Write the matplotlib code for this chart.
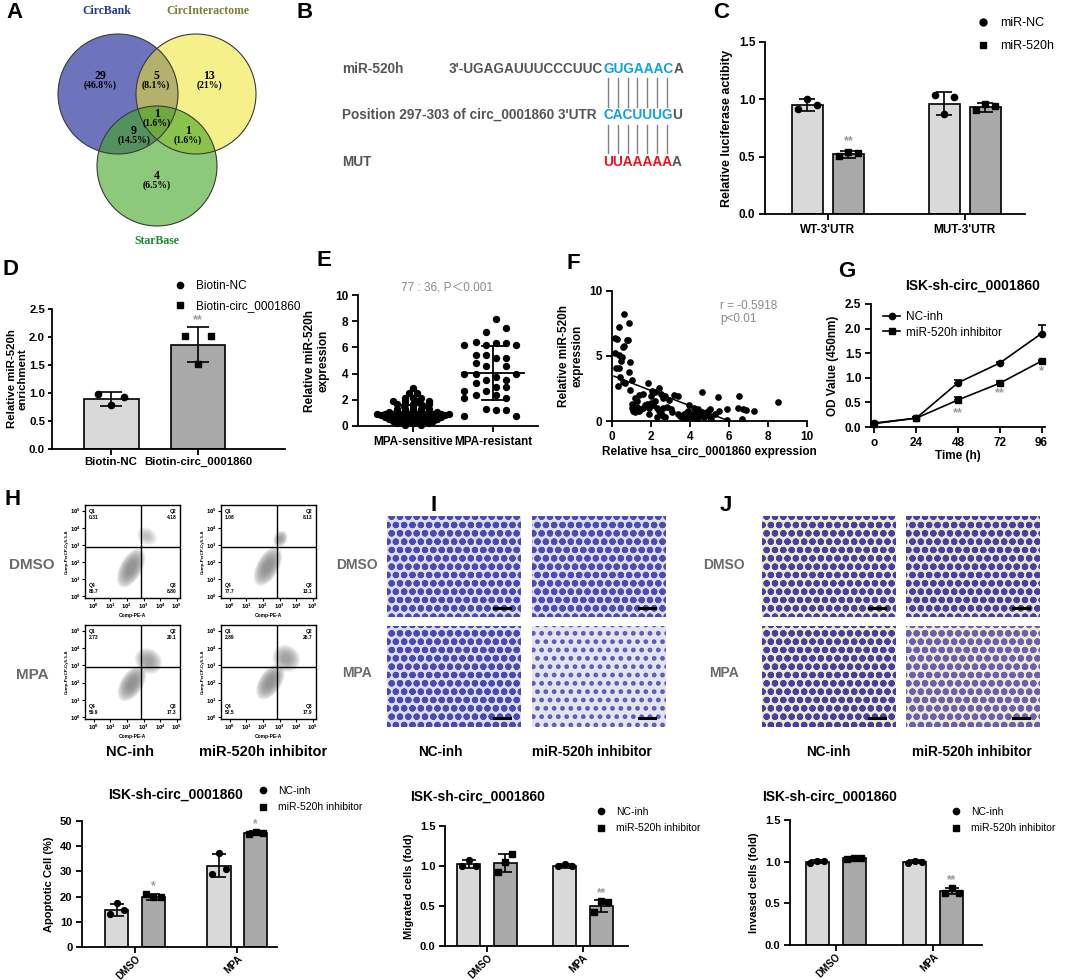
import numpy as np
import matplotlib
matplotlib.use('Agg')
import matplotlib.pyplot as plt
from matplotlib.patches import Circle, Ellipse, Rectangle
from matplotlib.lines import Line2D

W, H = 1065, 980
plt.rcParams['font.family'] = ['Liberation Sans', 'Noto Sans CJK SC', 'DejaVu Sans']
plt.rcParams['font.weight'] = 'bold'
plt.rcParams['axes.labelweight'] = 'bold'
plt.rcParams['axes.linewidth'] = 1.3
plt.rcParams['hatch.linewidth'] = 2.2

LIGHT = '#d9d9d9'
DARK = '#a9a9a9'
STAR = '#9a9a9a'

# ---------------- data ----------------
# A  Venn
venn_names = ['CircBank', 'CircInteractome', 'StarBase']
venn_counts = [29, 5, 13, 1, 9, 1, 4]
venn_pct = ['46.8%', '8.1%', '21%', '1.6%', '14.5%', '1.6%', '6.5%']

# B  binding site
b_rows = ['miR-520h', "Position 297-303 of circ_0001860 3'UTR", 'MUT']
b_prefix = ["3'-UGAGAUUUCCCUUC", '', '']
b_site = ['GUGAAAC', 'CACUUUG', 'UUAAAAA']
b_tail = ['A', 'U', 'A']

# C  luciferase
c_groups = ["WT-3'UTR", "MUT-3'UTR"]
c_series = ['miR-NC', 'miR-520h']
c_mean = [[0.95, 0.96], [0.52, 0.93]]
c_sd = [[0.05, 0.10], [0.03, 0.04]]
c_pts = [[[0.92, 1.00, 0.95], [1.04, 0.87, 1.02]],
         [[0.51, 0.54, 0.53], [0.91, 0.96, 0.94]]]

# D  RNA pull-down
d_groups = ['Biotin-NC', 'Biotin-circ_0001860']
d_mean = [0.89, 1.86]
d_sd = [0.13, 0.31]
d_pts = [[0.98, 0.78, 0.93], [2.02, 1.52, 2.02]]

# E  miR-520h expression in MPA-sensitive / resistant
e_groups = ['MPA-sensitive', 'MPA-resistant']
e_mean = [0.95, 4.05]
e_sd = [0.65, 2.05]
sens_vals = [2.9, 2.5, 2.5, 2.1, 2.1, 2.1,
             1.9, 1.9, 1.9, 1.9, 1.7, 1.7, 1.7, 1.7, 1.7,
             1.5, 1.5, 1.5, 1.3, 1.3, 1.3, 1.3, 1.3,
             1.1, 1.1, 1.1, 1.1, 1.1, 1.1, 1.1,
             0.95, 0.95, 0.95, 0.95, 0.95, 0.95, 0.95, 0.95, 0.95, 0.95,
             0.85, 0.85, 0.85, 0.85, 0.85, 0.85, 0.85, 0.85, 0.85,
             0.7, 0.7, 0.7, 0.7, 0.7, 0.7, 0.7, 0.7,
             0.55, 0.55, 0.55, 0.55, 0.55, 0.55, 0.55,
             0.4, 0.4, 0.4, 0.4, 0.4, 0.4,
             0.25, 0.25, 0.25, 0.25, 0.25, 0.1, 0.1]
sens_off = [0.0, -0.05, 0.05, -0.1, 0.0, 0.1,
            -0.25, -0.1, 0.05, 0.2, -0.2, -0.1, 0.0, 0.1, 0.2,
            -0.12, 0.0, 0.12, -0.2, -0.1, 0.0, 0.1, 0.2,
            -0.3, -0.2, -0.1, 0.0, 0.1, 0.2, 0.3,
            -0.45, -0.35, -0.25, -0.15, -0.05, 0.05, 0.15, 0.25, 0.35, 0.45,
            -0.4, -0.3, -0.2, -0.1, 0.0, 0.1, 0.2, 0.3, 0.4,
            -0.35, -0.25, -0.15, -0.05, 0.05, 0.15, 0.25, 0.35,
            -0.3, -0.2, -0.1, 0.0, 0.1, 0.2, 0.3,
            -0.25, -0.15, -0.05, 0.05, 0.15, 0.25,
            -0.2, -0.1, 0.0, 0.1, 0.2, -0.1, 0.1]
res_vals = [8.15, 7.2, 7.5, 6.2, 6.4, 6.2, 6.3, 6.3, 6.2,
            5.4, 5.4, 5.2, 5.2, 4.8, 4.6, 4.6,
            4.0, 4.0, 3.75, 4.0, 3.5, 3.5, 3.25, 3.0, 3.0,
            2.7, 2.7, 2.35, 2.35, 2.1, 2.1,
            1.3, 1.2, 1.2, 0.8, 0.8]
res_off = [0.04, -0.09, 0.16, -0.36, -0.21, -0.09, 0.04, 0.16, 0.29,
           -0.21, -0.09, 0.04, 0.16, -0.21, -0.09, 0.16,
           -0.21, -0.36, 0.04, 0.29, -0.09, 0.16, -0.21, 0.04, 0.16,
           -0.36, -0.09, -0.21, 0.04, -0.36, 0.16,
           -0.09, 0.04, 0.16, -0.36, 0.29]

# F  correlation
f_x = [0.15, 0.25, 0.62, 0.37, 0.87, 0.75, 0.82, 0.55, 0.62, 0.15, 0.35, 0.5,
       0.45, 0.92, 0.2, 0.35, 0.88, 0.4, 0.3, 0.65, 1.05, 0.9, 0.55,
       1.0, 1.05, 1.1, 1.15, 1.2, 1.25, 1.3, 1.4, 1.5, 1.6, 1.7, 1.2, 1.4, 1.6,
       1.3, 1.8, 1.9, 2.0, 2.0, 2.1, 2.2, 2.3, 2.4, 2.5, 2.6, 2.2, 2.4, 2.5,
       2.6, 2.7, 2.8, 2.6, 2.7, 3.0, 2.9, 3.2, 3.4, 3.1, 1.85, 2.05, 1.9, 2.3,
       3.4, 3.5, 3.6, 3.7, 3.8, 3.9, 4.0, 4.1, 4.2, 4.3, 4.4, 4.5, 4.6, 4.7,
       4.8, 4.9, 5.0, 5.1, 3.95, 4.2, 4.35, 4.6, 4.75, 5.0, 3.75,
       5.45, 5.5, 5.9, 5.9, 6.5, 6.45, 6.7, 6.85, 6.65, 7.3, 8.5, 5.3]
f_y = [6.4, 6.3, 8.2, 7.25, 7.5, 6.2, 6.2, 5.7, 5.8, 5.2, 5.1, 4.9,
       4.6, 4.55, 4.1, 4.1, 3.8, 3.4, 2.7, 2.95, 3.15, 2.4, 3.0,
       1.3, 1.0, 0.8, 1.1, 0.7, 0.9, 1.1, 0.8, 0.9, 1.0, 1.2, 1.8, 2.0, 2.1,
       1.5, 1.3, 1.0, 1.9, 1.4, 1.2, 1.5, 1.0, 0.8, 0.6, 0.4, 2.2, 2.5, 2.1,
       1.8, 1.9, 1.1, 1.0, 0.3, 0.9, 1.6, 2.0, 1.9, 0.7, 2.95, 2.3, 0.5, 0.3,
       0.55, 0.4, 0.3, 0.5, 0.6, 0.8, 0.2, 0.5, 0.3, 0.6, 0.9, 0.4, 0.7, 0.3,
       0.5, 0.8, 0.3, 0.2, 1.2, 1.0, 0.1, 2.25, 0.65, 0.9, 0.2,
       1.85, 0.8, 0.1, 0.9, 1.9, 1.0, 0.9, 0.85, 0.15, 0.8, 1.45, 0.5]
f_fit = (-0.585, 3.51)
f_fit_x = [0.1, 6.0]

# G  CCK-8
g_time = [0, 24, 48, 72, 96]
g_time_labels = ['o', '24', '48', '72', '96']
g_series = ['NC-inh', 'miR-520h inhibitor']
g_mean = [[0.08, 0.18, 0.90, 1.30, 1.90], [0.07, 0.18, 0.55, 0.89, 1.34]]
g_sd = [[0.02, 0.02, 0.05, 0.02, 0.17], [0.02, 0.02, 0.06, 0.04, 0.03]]

# H  flow cytometry quadrants (Q1, Q2, Q3, Q4)
h_rows = ['DMSO', 'MPA']
h_cols = ['NC-inh', 'miR-520h inhibitor']
h_quads = [[['0.31', '4.18', '8.80', '86.7'], ['1.08', '8.13', '13.1', '77.7']],
           [['2.73', '20.1', '17.3', '59.9'], ['2.89', '26.7', '17.9', '52.5']]]

# bottom bar charts
bt_groups = ['DMSO', 'MPA']
bt_series = ['NC-inh', 'miR-520h inhibitor']
apo_mean = [[14.8, 32.3], [19.8, 45.3]]
apo_sd = [[2.3, 4.6], [1.2, 0.6]]
apo_pts = [[[12.9, 17.3, 14.5], [29.0, 37.3, 31.0]],
           [[21.0, 19.8, 20.0], [45.0, 45.5, 45.3]]]
mig_mean = [[1.02, 1.00], [1.04, 0.50]]
mig_sd = [[0.05, 0.02], [0.11, 0.08]]
mig_pts = [[[1.00, 1.08, 1.00], [1.00, 1.02, 1.00]],
           [[0.93, 1.05, 1.15], [0.42, 0.56, 0.55]]]
inv_mean = [[1.00, 1.00], [1.04, 0.65]]
inv_sd = [[0.02, 0.02], [0.01, 0.04]]
inv_pts = [[[0.98, 1.01, 1.01], [0.99, 1.01, 1.00]],
           [[1.03, 1.05, 1.04], [0.63, 0.69, 0.63]]]

# ---------------- helpers ----------------
fig = plt.figure(figsize=(W / 100, H / 100), dpi=100)


def add_ax(x0, y0, x1, y1):
    return fig.add_axes([x0 / W, 1 - y1 / H, (x1 - x0) / W, (y1 - y0) / H])


def ftext(x, y, s, **kw):
    return fig.text(x / W, 1 - y / H, s, **kw)


def prism(ax, fs=8.5, pad=3):
    ax.spines['top'].set_visible(False)
    ax.spines['right'].set_visible(False)
    ax.tick_params(labelsize=fs, width=1.3, length=4, pad=pad)


def legend(ax, handles, labels, x, y, fs=8.5, spacing=0.8):
    ax.legend(handles, labels, loc='upper left', bbox_to_anchor=(x / W, 1 - y / H),
              bbox_transform=fig.transFigure, frameon=False,
              prop={'weight': 'normal', 'size': fs}, handlelength=0.8,
              handletextpad=1.0, borderaxespad=0, borderpad=0, labelspacing=spacing)


def mk_handles(ms=5, line=False):
    ls = '-' if line else 'none'
    return [Line2D([], [], ls=ls, marker='o', color='k', ms=ms, lw=1.2),
            Line2D([], [], ls=ls, marker='s', color='k', ms=ms, lw=1.2)]


def bar_panel(ax, means, sds, pts, width, off, capsize, ms=4.5):
    x = np.arange(len(means[0]))
    for k, (col, mk) in enumerate(zip([LIGHT, DARK], ['o', 's'])):
        xs = x + (2 * k - 1) * off
        ax.bar(xs, means[k], width, color=col, edgecolor='black', linewidth=1.2, zorder=2)
        ax.errorbar(xs, means[k], yerr=sds[k], fmt='none', ecolor='black',
                    elinewidth=1.2, capsize=capsize, capthick=1.2, zorder=3)
        for i, p in enumerate(pts[k]):
            ax.plot(xs[i] + np.array([-0.3, 0, 0.3]) * width, p, ls='none', marker=mk,
                    color='black', ms=ms, zorder=4, clip_on=False)
    return x


def letter(x, y, s):
    ftext(x, y, s, fontsize=16, fontweight='bold', va='top', ha='left')


# ---------------- A ----------------
letter(6, 2, 'A')
axa = add_ax(0, 0, 300, 255)
axa.set_xlim(0, 300)
axa.set_ylim(255, 0)
axa.axis('off')
circ = [((118, 94), '#6e74bc', 1.0), ((196, 94), '#ede42a', 0.55), ((157, 166), '#41a521', 0.6)]
for (c, col, al) in circ:
    axa.add_patch(Circle(c, 60, facecolor=col, alpha=al, edgecolor='none'))
for (c, col, al) in circ:
    axa.add_patch(Circle(c, 60, fill=False, edgecolor='#3a3a3a', lw=0.8))
vpos = [(100, 80), (156, 80), (209, 80), (157, 118), (134, 135), (188, 135), (157, 180)]
for (px, py), n, p in zip(vpos, venn_counts, venn_pct):
    axa.text(px, py - 4, str(n), ha='center', va='center', fontsize=8.5,
             family='Liberation Serif', fontweight='bold')
    axa.text(px, py + 5, '(' + p + ')', ha='center', va='center', fontsize=7,
             family='Liberation Serif', fontweight='bold')
for (px, py), name, col in zip([(107, 11), (208, 11), (157, 241)], venn_names,
                               ['#22379a', '#7d7d35', '#1a8a2e']):
    axa.text(px, py, name, ha='center', va='center', fontsize=8.5, color=col,
             family='Liberation Serif', fontweight='bold')

# ---------------- B ----------------
letter(296, 2, 'B')
axb = add_ax(290, 0, 690, 230)
axb.set_xlim(290, 690)
axb.set_ylim(230, 0)
axb.axis('off')
for i, (row, pre, site, tail) in enumerate(zip(b_rows, b_prefix, b_site, b_tail)):
    yy = [69, 115, 162][i]
    axb.text(342, yy, row, ha='left', va='center', fontsize=9.8, color='#555555')
    if pre:
        axb.text(603, yy, pre, ha='right', va='center', fontsize=9.8, color='#555555')
    t = axb.text(603, yy, site, ha='left', va='center', fontsize=9.8,
                 color='#e8141b' if i == 2 else '#11a0e6')
    axb.annotate(tail, xy=(1, 0.5), xycoords=t, va='center', ha='left', fontsize=9.8,
                 color='#555555')
for i in range(7):
    for y0, y1 in [(78, 107), (125, 153)]:
        axb.plot([608 + 9.8 * i] * 2, [y0, y1], color='#808080', lw=1)

# ---------------- C ----------------
letter(713, 2, 'C')
axc = add_ax(765, 42, 1025, 214)
xc = bar_panel(axc, c_mean, c_sd, c_pts, 0.23, 0.15, 6)
axc.set_xlim(-0.46, 1.44)
axc.set_ylim(0, 1.5)
axc.set_yticks([0, 0.5, 1.0, 1.5])
axc.set_xticks(xc)
axc.set_xticklabels(c_groups, fontsize=9)
axc.set_ylabel('Relative luciferase actibity', fontsize=9)
prism(axc)
axc.text(0 + 0.15, 0.61, '**', ha='center', color=STAR, fontsize=9)
legend(axc, mk_handles(), c_series, 978, 17, fs=9, spacing=0.9)

# ---------------- D ----------------
letter(3, 259, 'D')
axd = add_ax(52, 309, 285, 449)
xd = np.arange(2)
for i in range(2):
    axd.bar(xd[i], d_mean[i], 0.63, color=[LIGHT, DARK][i], edgecolor='black', lw=1.2, zorder=2)
    axd.errorbar(xd[i], d_mean[i], yerr=d_sd[i], fmt='none', ecolor='black',
                 elinewidth=1.2, capsize=8, capthick=1.2, zorder=3)
    axd.plot(xd[i] + np.array([-0.15, 0.0, 0.15]), d_pts[i], ls='none',
             marker=['o', 's'][i], color='k', ms=4.5, zorder=4)
axd.set_xlim(-0.68, 2.0)
axd.set_ylim(0, 2.5)
axd.set_yticks([0, 0.5, 1.0, 1.5, 2.0, 2.5])
axd.set_xticks(xd)
axd.set_xticklabels(d_groups, fontsize=8.5)
axd.set_ylabel('Relative miR-520h\nenrichment', fontsize=8.2, labelpad=1, linespacing=1.1)
prism(axd, fs=8.2, pad=2)
axd.tick_params(axis='y', length=3)
axd.text(1, 2.24, '**', ha='center', color=STAR, fontsize=9)
legend(axd, mk_handles(4.5), d_groups, 175, 280, fs=8.5, spacing=0.7)

# ---------------- E ----------------
letter(316, 250, 'E')
axe = add_ax(358, 295, 538, 426)
axe.plot(np.array(sens_off), sens_vals, ls='none', marker='o', color='k', ms=4.3, clip_on=False)
axe.plot(1 + np.array(res_off), res_vals, ls='none', marker='o', color='k', ms=4.3, clip_on=False)
for i in range(2):
    axe.plot([i - 0.39, i + 0.39], [e_mean[i]] * 2, color='k', lw=1.3)
    axe.plot([i, i], [e_mean[i] - e_sd[i], e_mean[i] + e_sd[i]], color='k', lw=1.3)
    for v in (e_mean[i] - e_sd[i], e_mean[i] + e_sd[i]):
        axe.plot([i - 0.14, i + 0.14], [v, v], color='k', lw=1.3)
axe.set_xlim(-0.69, 1.56)
axe.set_ylim(0, 10)
axe.set_yticks([0, 2, 4, 6, 8, 10])
axe.set_xticks([0, 1])
axe.set_xticklabels(e_groups, fontsize=8.5)
axe.set_ylabel('Relative miR-520h\nexpression', fontsize=8.5)
prism(axe)
ftext(447, 287, '77 : 36, P\uff1c0.001', ha='center', va='center', fontsize=8.5,
      color='#8a8a8a', fontweight='normal')

# ---------------- F ----------------
letter(567, 253, 'F')
axf = add_ax(612, 291, 807, 421)
axf.plot(f_x, f_y, ls='none', marker='o', color='k', ms=3.8)
fx = np.array(f_fit_x)
axf.plot(fx, f_fit[0] * fx + f_fit[1], color='k', lw=1.1)
axf.set_xlim(0, 10)
axf.set_ylim(0, 10)
axf.set_xticks([0, 2, 4, 6, 8, 10])
axf.set_yticks([0, 5, 10])
axf.set_xlabel('Relative hsa_circ_0001860 expression', fontsize=8.5, labelpad=2)
axf.set_ylabel('Relative miR-520h\nexpression', fontsize=8.5)
prism(axf)
ftext(720, 306, 'r = -0.5918', fontsize=8.5, color='#8a8a8a', va='center', fontweight='normal')
ftext(720, 319, 'p<0.01', fontsize=8.5, color='#8a8a8a', va='center', fontweight='normal')

# ---------------- G ----------------
letter(838, 261, 'G')
axg = add_ax(871, 304, 1045, 427)
for k, mk in enumerate(['o', 's']):
    axg.errorbar(g_time, g_mean[k], yerr=[np.zeros(5), g_sd[k]], color='k', lw=1.2,
                 marker=mk, ms=4.5, capsize=3, elinewidth=1.2, capthick=1.2, clip_on=False)
axg.set_xlim(-2, 98)
axg.set_ylim(0, 2.5)
axg.set_yticks([0, 0.5, 1.0, 1.5, 2.0, 2.5])
axg.set_xticks(g_time)
axg.set_xticklabels(g_time_labels)
axg.set_xlabel('Time (h)', fontsize=8.5, labelpad=1)
axg.set_ylabel('OD Value (450nm)', fontsize=8.5)
prism(axg)
axg.legend(mk_handles(4.5, line=True), g_series, loc='upper left', bbox_to_anchor=(0.03, 1.0),
           frameon=False, prop={'weight': 'normal', 'size': 8.5}, handlelength=1.4,
           handletextpad=0.5, labelspacing=0.3, borderaxespad=0.2)
for t, yv, s in [(48, 0.22, '**'), (72, 0.62, '**'), (96, 1.08, '*')]:
    axg.text(t, yv, s, ha='center', color=STAR, fontsize=9)
ftext(973, 286, 'ISK-sh-circ_0001860', ha='center', va='center', fontsize=10)

# ---------------- H flow ----------------
letter(5, 489, 'H')
flow_boxes = [[(85, 505, 180, 598), (221, 505, 316, 598)],
              [(85, 625, 180, 719), (221, 625, 316, 719)]]
flow_clouds = [[[(2.25, 1.65, 1.3, 2.5, -30), (3.2, 3.5, 1.3, 1.0, -30)],
                [(2.3, 1.75, 1.3, 2.5, -30), (3.05, 3.35, 0.8, 1.0, -30)]],
               [[(2.3, 1.95, 1.3, 2.3, -35), (3.3, 3.25, 1.7, 1.4, -30)],
                [(2.45, 2.05, 1.3, 2.3, -35), (3.4, 3.4, 1.7, 1.5, -30)]]]
for r in range(2):
    for c in range(2):
        ax = add_ax(*flow_boxes[r][c])
        ax.set_xlim(-0.52, 5.19)
        ax.set_ylim(-0.1, 5.33)
        for j, (cx, cy, w, h, a) in enumerate(flow_clouds[r][c]):
            base = 0.2 if j == 0 else (0.07 if r == 0 and c == 0 else 0.14)
            for s in (1.0, 0.9, 0.8, 0.7, 0.6, 0.5, 0.4, 0.3):
                ax.add_patch(Ellipse((cx, cy), w * s, h * s, angle=a, facecolor='#808080',
                                     alpha=base, edgecolor='none'))
        ax.axvline(2.87, color='k', lw=1.0)
        ax.axhline(2.9, color='k', lw=1.0)
        q = h_quads[r][c]
        kw = dict(fontsize=3.6, transform=ax.transAxes)
        ax.text(0.04, 0.96, 'Q1\n' + q[0], ha='left', va='top', **kw)
        ax.text(0.96, 0.96, 'Q2\n' + q[1], ha='right', va='top', **kw)
        ax.text(0.96, 0.04, 'Q3\n' + q[2], ha='right', va='bottom', **kw)
        ax.text(0.04, 0.04, 'Q4\n' + q[3], ha='left', va='bottom', **kw)
        ax.set_xticks(range(6))
        ax.set_yticks(range(6))
        ax.set_xticklabels(['$10^{%d}$' % i for i in range(6)])
        ax.set_yticklabels(['$10^{%d}$' % i for i in range(6)])
        ax.tick_params(labelsize=3.5, length=2, width=0.8, pad=1)
        ax.set_xlabel('Comp-PE-A', fontsize=3.5, labelpad=1)
        ax.set_ylabel('Comp-PerCP-Cy5-5-A', fontsize=3.2, labelpad=1)
        for sp in ax.spines.values():
            sp.set_linewidth(1.0)
for i, name in enumerate(h_rows):
    ftext(32, [565, 675][i], name, ha='center', va='center', fontsize=11, color='#6a6a6a')
for i, name in enumerate(h_cols):
    ftext([130, 263][i], 752, name, ha='center', va='center', fontsize=10.5)

# ---------------- I / J microscopy ----------------
img_style = {
    'I': [[('#dcdcec', '#4a4ab4', 'oo'), ('#dcdcec', '#4c4cb4', 'oo')],
          [('#dcdcec', '#4a4ab4', 'oo'), ('#e4e4f0', '#5a5ab8', '..')]],
    'J': [[('#ebeacc', '#4a3ea2', 'oo'), ('#e6e4cf', '#4a3ea2', 'oo')],
          [('#ebeacc', '#4a3ea2', 'oo'), ('#edeacf', '#6a5fb0', 'oo')]],
}
img_x = {'I': [(387, 521), (532, 666)], 'J': [(762, 896), (906, 1040)]}
img_y = [(516, 617), (626, 727)]
row_lab_x = {'I': 357, 'J': 724}
col_lab_x = {'I': [440, 592], 'J': [828, 972]}
letter(431, 495, 'I')
letter(720, 495, 'J')
for p in ['I', 'J']:
    for r in range(2):
        for c in range(2):
            x0, x1 = img_x[p][c]
            y0, y1 = img_y[r]
            ax = add_ax(x0, y0, x1, y1)
            bg, fg, hatch = img_style[p][r][c]
            ax.add_patch(Rectangle((0, 0), 1, 1, facecolor=bg, edgecolor=fg, hatch=hatch,
                                   lw=0, transform=ax.transAxes))
            ax.plot([0.8, 0.92], [0.09, 0.09], color='k', lw=2.2, transform=ax.transAxes)
            ax.set_xticks([])
            ax.set_yticks([])
            for sp in ax.spines.values():
                sp.set_visible(False)
    for i, name in enumerate(h_rows):
        ftext(row_lab_x[p], [565, 673][i], name, ha='center', va='center', fontsize=10,
              color='#6a6a6a')
    for i, name in enumerate(h_cols):
        ftext(col_lab_x[p][i], 752, name, ha='center', va='center', fontsize=9.8)

# ---------------- bottom bar charts ----------------
bottom = [
    ((82, 821, 277, 947), apo_mean, apo_sd, apo_pts, (-0.52, 1.39), 0.23, 0.18,
     (0, 50), [0, 10, 20, 30, 40, 50], 'Apoptotic Cell (%)',
     [(0, 23.0, '*'), (1, 47.5, '*')], (176, 795), (259, 786)),
    ((445, 826, 628, 946), mig_mean, mig_sd, mig_pts, (-0.44, 1.47), 0.24, 0.19,
     (0, 1.5), [0, 0.5, 1.0, 1.5], 'Migrated cells (fold)',
     [(1, 0.62, '**')], (478, 797), (597, 807)),
    ((790, 820, 982, 945), inv_mean, inv_sd, inv_pts, (-0.47, 1.5), 0.24, 0.19,
     (0, 1.5), [0, 0.5, 1.0, 1.5], 'Invased cells (fold)',
     [(1, 0.74, '**')], (830, 797), (952, 807)),
]
for (box, mean, sd, pts, xl, w, off, yl, yt, ylab, stars, tpos, lpos) in bottom:
    ax = add_ax(*box)
    xb = bar_panel(ax, mean, sd, pts, w, off, 5, ms=4.2)
    ax.set_xlim(*xl)
    ax.set_ylim(*yl)
    ax.set_yticks(yt)
    ax.set_xticks(xb)
    ax.set_ylabel(ylab, fontsize=8)
    prism(ax, fs=8)
    ax.set_xticklabels(bt_groups, rotation=45, ha='right', rotation_mode='anchor', fontsize=7)
    ax.tick_params(axis='x', pad=1)
    for i, yv, s in stars:
        ax.text(i + off, yv, s, ha='center', color=STAR, fontsize=8.5)
    ftext(tpos[0], tpos[1], 'ISK-sh-circ_0001860', ha='center', va='center', fontsize=10)
    legend(ax, mk_handles(4.5), bt_series, lpos[0], lpos[1], fs=7.5, spacing=0.6)

fig.savefig('out.png', dpi=100)
